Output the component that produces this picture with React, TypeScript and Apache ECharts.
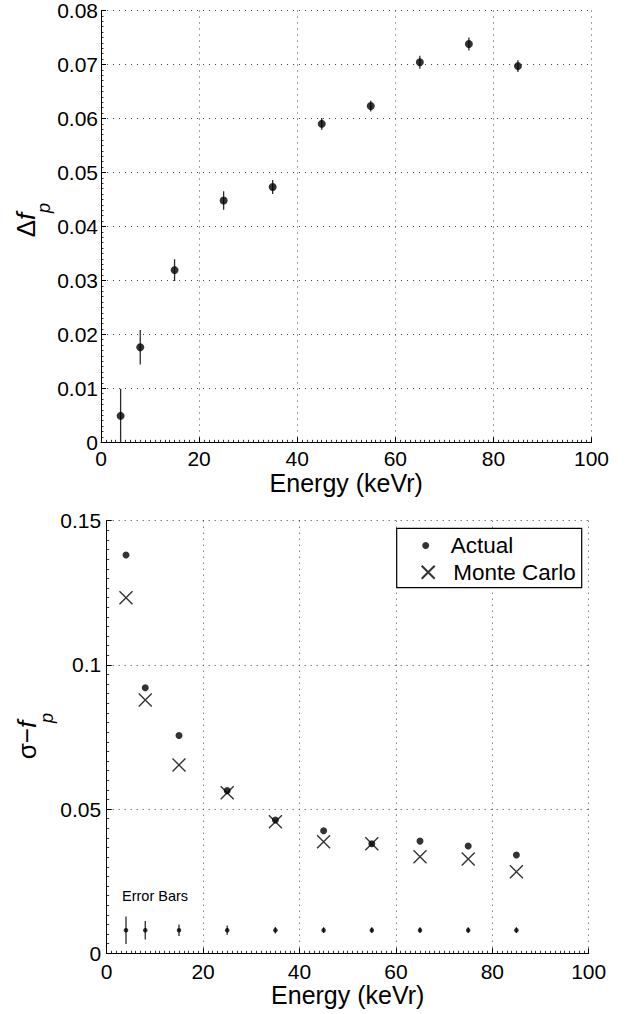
import React, { useEffect, useRef } from "react";
import * as echarts from "echarts";

const energy = [4, 8, 15, 25, 35, 45, 55, 65, 75, 85];
const deltaFp = [0.0049, 0.0176, 0.0319, 0.0448, 0.0473, 0.059, 0.0623, 0.0704, 0.0738, 0.0697];
const deltaFpErr = [0.005, 0.0032, 0.002, 0.0017, 0.0013, 0.0011, 0.001, 0.0012, 0.0012, 0.0011];
const sigmaActual = [0.1381, 0.0921, 0.0755, 0.0564, 0.0462, 0.0425, 0.038, 0.0389, 0.0372, 0.0341];
const sigmaMonteCarlo = [0.1233, 0.0878, 0.0653, 0.0557, 0.0456, 0.0387, 0.038, 0.0335, 0.0327, 0.0283];
const sigmaErr = [0.0048, 0.0032, 0.002, 0.0016, 0.0011, 0.001, 0.001, 0.001, 0.001, 0.001];
const errorBarLevel = 0.008;
const legendNames = ["Actual", "Monte Carlo"];

const FONT = "'Liberation Sans', Arial, Helvetica, sans-serif";
const X_SYMBOL = "path://M0,0L10,10M10,0L0,10";

function errRender(params: any, api: any) {
  const x = api.value(0);
  const p1 = api.coord([x, api.value(1)]);
  const p2 = api.coord([x, api.value(2)]);
  return {
    type: "line",
    shape: { x1: p1[0], y1: p1[1], x2: p2[0], y2: p2[1] },
    style: { stroke: "#2a2a2a", lineWidth: 1.3 },
  };
}

function xAxisCfg(gridIndex: number, nameGap: number, labelMargin: number) {
  return {
    type: "value",
    gridIndex,
    min: 0,
    max: 100,
    interval: 20,
    name: "Energy (keVr)",
    nameLocation: "middle",
    nameGap,
    nameTextStyle: { fontSize: 25, color: "#000", fontFamily: FONT },
    axisLine: { show: true, onZero: false, lineStyle: { color: "#000", width: 1 } },
    axisTick: { show: true, inside: true, length: 5, lineStyle: { color: "#000", width: 1 } },
    minorTick: { show: true, splitNumber: 20, length: 2.5, lineStyle: { color: "#000", width: 0.8 } },
    axisLabel: { fontSize: 21, color: "#000", fontFamily: FONT, margin: labelMargin },
    splitLine: { show: true, lineStyle: { color: "#444", type: [1, 5], width: 1 } },
  };
}

function yAxisCfg(gridIndex: number, max: number, interval: number, minorSplit: number, labelMargin: number) {
  return {
    type: "value",
    gridIndex,
    min: 0,
    max,
    interval,
    axisLine: { show: true, onZero: false, lineStyle: { color: "#000", width: 1 } },
    axisTick: { show: true, inside: true, length: 5, lineStyle: { color: "#000", width: 1 } },
    minorTick: { show: true, splitNumber: minorSplit, length: 2.5, lineStyle: { color: "#000", width: 0.8 } },
    axisLabel: { fontSize: 21, color: "#000", fontFamily: FONT, margin: labelMargin },
    splitLine: { show: true, lineStyle: { color: "#444", type: [1, 5], width: 1 } },
  };
}

export default function App() {
  const ref = useRef<HTMLDivElement>(null);

  useEffect(() => {
    document.body.style.margin = "0";
    if (!ref.current) return;
    const chart = echarts.init(ref.current, undefined, { renderer: "svg" });

    const option: any = {
      animation: false,
      backgroundColor: "#fff",
      textStyle: { fontFamily: FONT },
      grid: [
        { left: 101, top: 8, width: 490.5, height: 434.3 },
        { left: 106.7, top: 520.7, width: 482, height: 432.6 },
      ],
      xAxis: [xAxisCfg(0, 25, 6), xAxisCfg(1, 26, 7.5)],
      yAxis: [yAxisCfg(0, 0.08, 0.01, 10, 3), yAxisCfg(1, 0.15, 0.05, 15, 5.5)],
      legend: [
        {
          data: [legendNames[0]],
          orient: "vertical",
          left: 422.2,
          top: 534,
          padding: 0,
          itemWidth: 7,
          itemHeight: 7,
          icon: "circle",
          z: 10,
          selectedMode: false,
          textStyle: { fontSize: 22.5, color: "#000", fontFamily: FONT, padding: [0, 0, 0, 16.5] },
        },
        {
          data: [legendNames[1]],
          orient: "vertical",
          left: 419.2,
          top: 560.7,
          padding: 0,
          itemWidth: 13,
          itemHeight: 13,
          z: 10,
          selectedMode: false,
          textStyle: { fontSize: 22.5, color: "#000", fontFamily: FONT, padding: [0, 0, 0, 13.5] },
        },
      ],
      graphic: [
        {
          type: "rect",
          z: 5,
          shape: { x: 396.7, y: 528.3, width: 185, height: 59.4 },
          style: { fill: "#fff", stroke: "#000", lineWidth: 1.2 },
        },
        {
          type: "text",
          x: 26,
          y: 225,
          rotation: Math.PI / 2,
          style: {
            text: "{a|Δ}{i|f}",
            align: "center",
            verticalAlign: "middle",
            rich: {
              a: { fontSize: 26, fontFamily: FONT, fill: "#000" },
              i: { fontSize: 26, fontFamily: FONT, fontStyle: "italic", fill: "#000" },
            },
          },
        },
        {
          type: "text",
          x: 44,
          y: 208,
          rotation: Math.PI / 2,
          style: {
            text: "p",
            fontSize: 18,
            fontStyle: "italic",
            fontFamily: FONT,
            fill: "#000",
            align: "center",
            verticalAlign: "middle",
          },
        },
        {
          type: "text",
          x: 27,
          y: 740,
          rotation: Math.PI / 2,
          style: {
            text: "{a|σ−}{i|f}",
            align: "center",
            verticalAlign: "middle",
            rich: {
              a: { fontSize: 26, fontFamily: FONT, fill: "#000" },
              i: { fontSize: 26, fontFamily: FONT, fontStyle: "italic", fill: "#000" },
            },
          },
        },
        {
          type: "text",
          x: 47,
          y: 718,
          rotation: Math.PI / 2,
          style: {
            text: "p",
            fontSize: 18,
            fontStyle: "italic",
            fontFamily: FONT,
            fill: "#000",
            align: "center",
            verticalAlign: "middle",
          },
        },
        {
          type: "text",
          x: 122,
          y: 896,
          style: {
            text: "Error Bars",
            fontSize: 14.5,
            fontFamily: FONT,
            fill: "#000",
            align: "left",
            verticalAlign: "middle",
          },
        },
      ],
      series: [
        {
          name: "dfpErr",
          type: "custom",
          xAxisIndex: 0,
          yAxisIndex: 0,
          clip: true,
          z: 2,
          renderItem: errRender,
          encode: { x: 0, y: [1, 2] },
          data: energy.map((x, i) => [x, deltaFp[i] - deltaFpErr[i], deltaFp[i] + deltaFpErr[i]]),
        },
        {
          name: "dfp",
          type: "scatter",
          xAxisIndex: 0,
          yAxisIndex: 0,
          symbol: "circle",
          symbolSize: 8,
          z: 3,
          itemStyle: { color: "#000" },
          data: energy.map((x, i) => [x, deltaFp[i]]),
        },
        {
          name: legendNames[0],
          type: "scatter",
          xAxisIndex: 1,
          yAxisIndex: 1,
          symbol: "circle",
          symbolSize: 7,
          z: 3,
          itemStyle: { color: "#000" },
          data: energy.map((x, i) => [x, sigmaActual[i]]),
        },
        {
          name: legendNames[1],
          type: "scatter",
          xAxisIndex: 1,
          yAxisIndex: 1,
          symbol: X_SYMBOL,
          symbolSize: 13,
          z: 3,
          itemStyle: { color: "none", borderColor: "#000", borderWidth: 1.4 },
          data: energy.map((x, i) => [x, sigmaMonteCarlo[i]]),
        },
        {
          name: "sigmaErr",
          type: "custom",
          xAxisIndex: 1,
          yAxisIndex: 1,
          clip: true,
          z: 2,
          renderItem: errRender,
          encode: { x: 0, y: [1, 2] },
          data: energy.map((x, i) => [x, errorBarLevel - sigmaErr[i], errorBarLevel + sigmaErr[i]]),
        },
        {
          name: "sigmaErrDot",
          type: "scatter",
          xAxisIndex: 1,
          yAxisIndex: 1,
          symbol: "circle",
          symbolSize: 4.5,
          z: 3,
          itemStyle: { color: "#000" },
          data: energy.map((x) => [x, errorBarLevel]),
        },
      ],
    };

    chart.setOption(option);
    return () => chart.dispose();
  }, []);

  return <div ref={ref} style={{ width: 630, height: 1014 }} />;
}
